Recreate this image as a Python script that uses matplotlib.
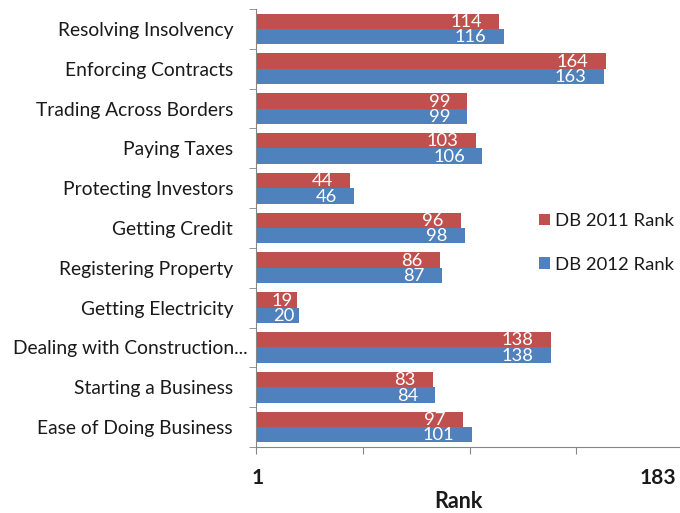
import numpy as np
import matplotlib
matplotlib.use('Agg')
import matplotlib.pyplot as plt
import matplotlib.transforms as mtransforms

plt.rcParams['font.family'] = ['Lato', 'DejaVu Sans']

# data
categories = ['Resolving Insolvency', 'Enforcing Contracts', 'Trading Across Borders',
              'Paying Taxes', 'Protecting Investors', 'Getting Credit',
              'Registering Property', 'Getting Electricity',
              'Dealing with Construction...', 'Starting a Business',
              'Ease of Doing Business']
rank_2011 = [114, 164, 99, 103, 44, 96, 86, 19, 138, 83, 97]
rank_2012 = [116, 163, 99, 106, 46, 98, 87, 20, 138, 84, 101]
series_names = ['DB 2011 Rank', 'DB 2012 Rank']

red = '#C0504D'
blue = '#4F81BD'
txt = '#1a1a1a'

fig = plt.figure(figsize=(6.8, 5.13), dpi=100)
ax = fig.add_axes([256/680, 1 - 447/513, 427/680, 438/513])

y = np.arange(len(categories))
h = 0.385
b1 = ax.barh(y - h/2, rank_2011, height=h, color=red, label=series_names[0])
b2 = ax.barh(y + h/2, rank_2012, height=h, color=blue, label=series_names[1])

# white value labels inside the bar ends
for bars in (b1, b2):
    for bar in bars:
        v = bar.get_width()
        pad = -3 if v < 30 else -12.5
        ax.annotate(str(int(v)), (v, bar.get_y() + bar.get_height()/2),
                    xytext=(pad, -0.5), textcoords='offset points',
                    ha='right', va='center', color='white', fontsize=13.2)

ax.set_xlim(0, 200)
ax.set_ylim(len(categories) - 0.5, -0.5)
ax.set_xticks([0, 50, 100, 150, 200])
ax.set_xticklabels([])
ax.set_yticks(y)
ax.set_yticklabels(categories, fontsize=13.9, color=txt)
ax.set_yticks(np.arange(len(categories) + 1) - 0.5, minor=True)
ax.tick_params(axis='y', which='major', length=0, pad=16.5)
ax.tick_params(axis='y', which='minor', length=5, color='#868686', direction='out')
ax.tick_params(axis='x', length=5, color='#868686', direction='out')
for s in ['top', 'right']:
    ax.spines[s].set_visible(False)
for s in ['left', 'bottom']:
    ax.spines[s].set_color('#868686')

# the long truncated label sits further right, as in the original
lbl = ax.get_yticklabels()[categories.index('Dealing with Construction...')]
lbl.set_transform(lbl.get_transform() +
                  mtransforms.ScaledTranslation(0.15, 0, fig.dpi_scale_trans))

fig.text(258/680, 1 - 478/513, '1', ha='center', va='center', fontsize=15,
         fontweight='bold', color=txt)
fig.text(676/680, 1 - 478/513, '183', ha='right', va='center', fontsize=15,
         fontweight='bold', color=txt)
fig.text(458/680, 1 - 502/513, 'Rank', ha='center', va='center', fontsize=15.5,
         fontweight='bold', color=txt)

fig.legend(handles=[b1, b2], labels=series_names, loc='center left',
           bbox_to_anchor=(522/680, 1 - 243/513), frameon=False, fontsize=13.3,
           handlelength=0.6, handleheight=0.6, handletextpad=0.3,
           labelspacing=1.5, labelcolor=txt)

fig.savefig('out.png', dpi=100)
